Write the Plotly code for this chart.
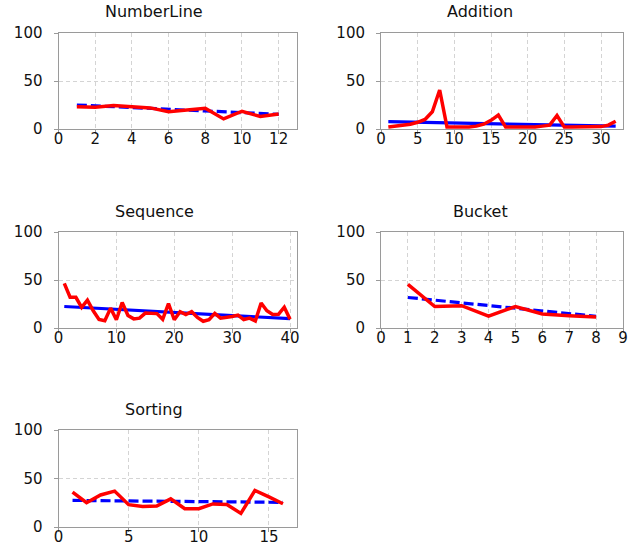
import plotly.graph_objects as go

# ---------------- data ----------------
numberline_x = list(range(1, 13))
numberline_y = [23.3, 22.6, 24.4, 23, 22, 18, 20, 21.6, 10.5, 18.5, 13, 15.7]
numberline_trend_x = [1, 12]
numberline_trend_y = [25, 15.3]

addition_x = list(range(1, 33))
addition_y = [2, 3, 4, 5, 7, 10, 18, 40.6, 2, 2, 2, 2, 3, 5, 9, 14.5,
              2, 2, 2, 2, 2, 3, 4, 14, 2, 2, 2, 2, 2, 2.5, 4, 8]
addition_trend_x = [1, 32]
addition_trend_y = [7.6, 3]

sequence_x = list(range(1, 41))
sequence_y = [46.5, 32, 32, 21.5, 29, 18, 9, 7.5, 20.7, 8.6,
              26.5, 13, 9.5, 10.3, 15.5, 15.5, 15, 9, 25.5, 8.6,
              17, 14, 17, 11, 7, 8.6, 15.2, 10.3, 11, 12,
              13.5, 8.8, 10.3, 7.3, 26, 18, 14, 14.2, 21.7, 9]
sequence_trend_x = [1, 40]
sequence_trend_y = [22.4, 9.7]

bucket_x = list(range(1, 9))
bucket_y = [45.5, 22.4, 23.2, 12.4, 22.4, 14.6, 12.8, 11.5]
bucket_trend_x = [1, 8]
bucket_trend_y = [31.8, 12.2]

sorting_x = list(range(1, 17))
sorting_y = [36, 25, 33, 37, 23, 21.1, 21.6, 29, 18.8, 18.8, 23.8, 23.2, 14, 37.7, 31, 24]
sorting_trend_x = [1, 16]
sorting_trend_y = [27.4, 25.4]

titles = ["NumberLine", "Addition", "Sequence", "Bucket", "Sorting"]
x_ranges = [[0, 13], [0, 33], [0, 41.2], [0, 9], [0, 17]]
x_dticks = [2, 5, 10, 1, 5]
y_ticks = [0, 50, 100]

panels = [
    (numberline_x, numberline_y, numberline_trend_x, numberline_trend_y, "10px,4px"),
    (addition_x, addition_y, addition_trend_x, addition_trend_y, "solid"),
    (sequence_x, sequence_y, sequence_trend_x, sequence_trend_y, "solid"),
    (bucket_x, bucket_y, bucket_trend_x, bucket_trend_y, "10px,4px"),
    (sorting_x, sorting_y, sorting_trend_x, sorting_trend_y, "10px,4px"),
]

# ---------------- layout geometry (pixels) ----------------
W, H = 643, 556
col_px = [(58.5, 297), (381, 623)]
row_px = [(33, 129), (232, 328), (430, 527)]
title_cx = [154, 480]
title_cy = [12, 211, 409]

FONT = "DejaVu Sans, Verdana, sans-serif"

fig = go.Figure()
layout = dict(
    template="none",
    width=W, height=H, autosize=False,
    margin=dict(l=0, r=0, t=0, b=0, pad=0, autoexpand=False),
    paper_bgcolor="white", plot_bgcolor="white",
    showlegend=False,
    font=dict(family=FONT, size=15, color="#111111"),
    annotations=[],
)

for i, (xs, ys, tx, ty, dash) in enumerate(panels):
    r, c = divmod(i, 2)
    n = i + 1
    xa = "xaxis" if n == 1 else f"xaxis{n}"
    ya = "yaxis" if n == 1 else f"yaxis{n}"
    xref = "x" if n == 1 else f"x{n}"
    yref = "y" if n == 1 else f"y{n}"
    x0, x1 = col_px[c]
    y0, y1 = row_px[r]
    common = dict(
        automargin=False,
        showline=True, mirror=True, linecolor="#9a9a9a", linewidth=1,
        showgrid=True, gridcolor="#d4d4d4", griddash="4px,3px", gridwidth=1,
        ticks="outside", ticklen=4, tickcolor="#9a9a9a",
        zeroline=False, tickfont=dict(size=15, family=FONT, color="#111111"),
    )
    layout[xa] = dict(common, domain=[x0 / W, x1 / W], range=x_ranges[i],
                      tick0=0, dtick=x_dticks[i], anchor=yref,
                      ticklabelstandoff=-8)
    layout[ya] = dict(common, domain=[1 - y1 / H, 1 - y0 / H], range=[0, 100],
                      tickvals=y_ticks, anchor=xref, ticklabelstandoff=8)
    fig.add_trace(go.Scatter(x=tx, y=ty, mode="lines", xaxis=xref, yaxis=yref,
                             line=dict(color="#0000ff", width=3.2, dash=dash)))
    fig.add_trace(go.Scatter(x=xs, y=ys, mode="lines", xaxis=xref, yaxis=yref,
                             line=dict(color="#ff0000", width=3.5)))
    layout["annotations"].append(dict(
        text=titles[i], xref="paper", yref="paper",
        x=title_cx[c] / W, y=1 - title_cy[r] / H,
        xanchor="center", yanchor="middle", showarrow=False,
        font=dict(size=16, family=FONT, color="#111111"),
    ))

fig.update_layout(**layout)
fig.write_html(
    "out.html",
    config={"displayModeBar": False, "responsive": False},
    post_script="document.body.style.margin='0px';"
                "document.body.style.overflow='hidden';",
)
